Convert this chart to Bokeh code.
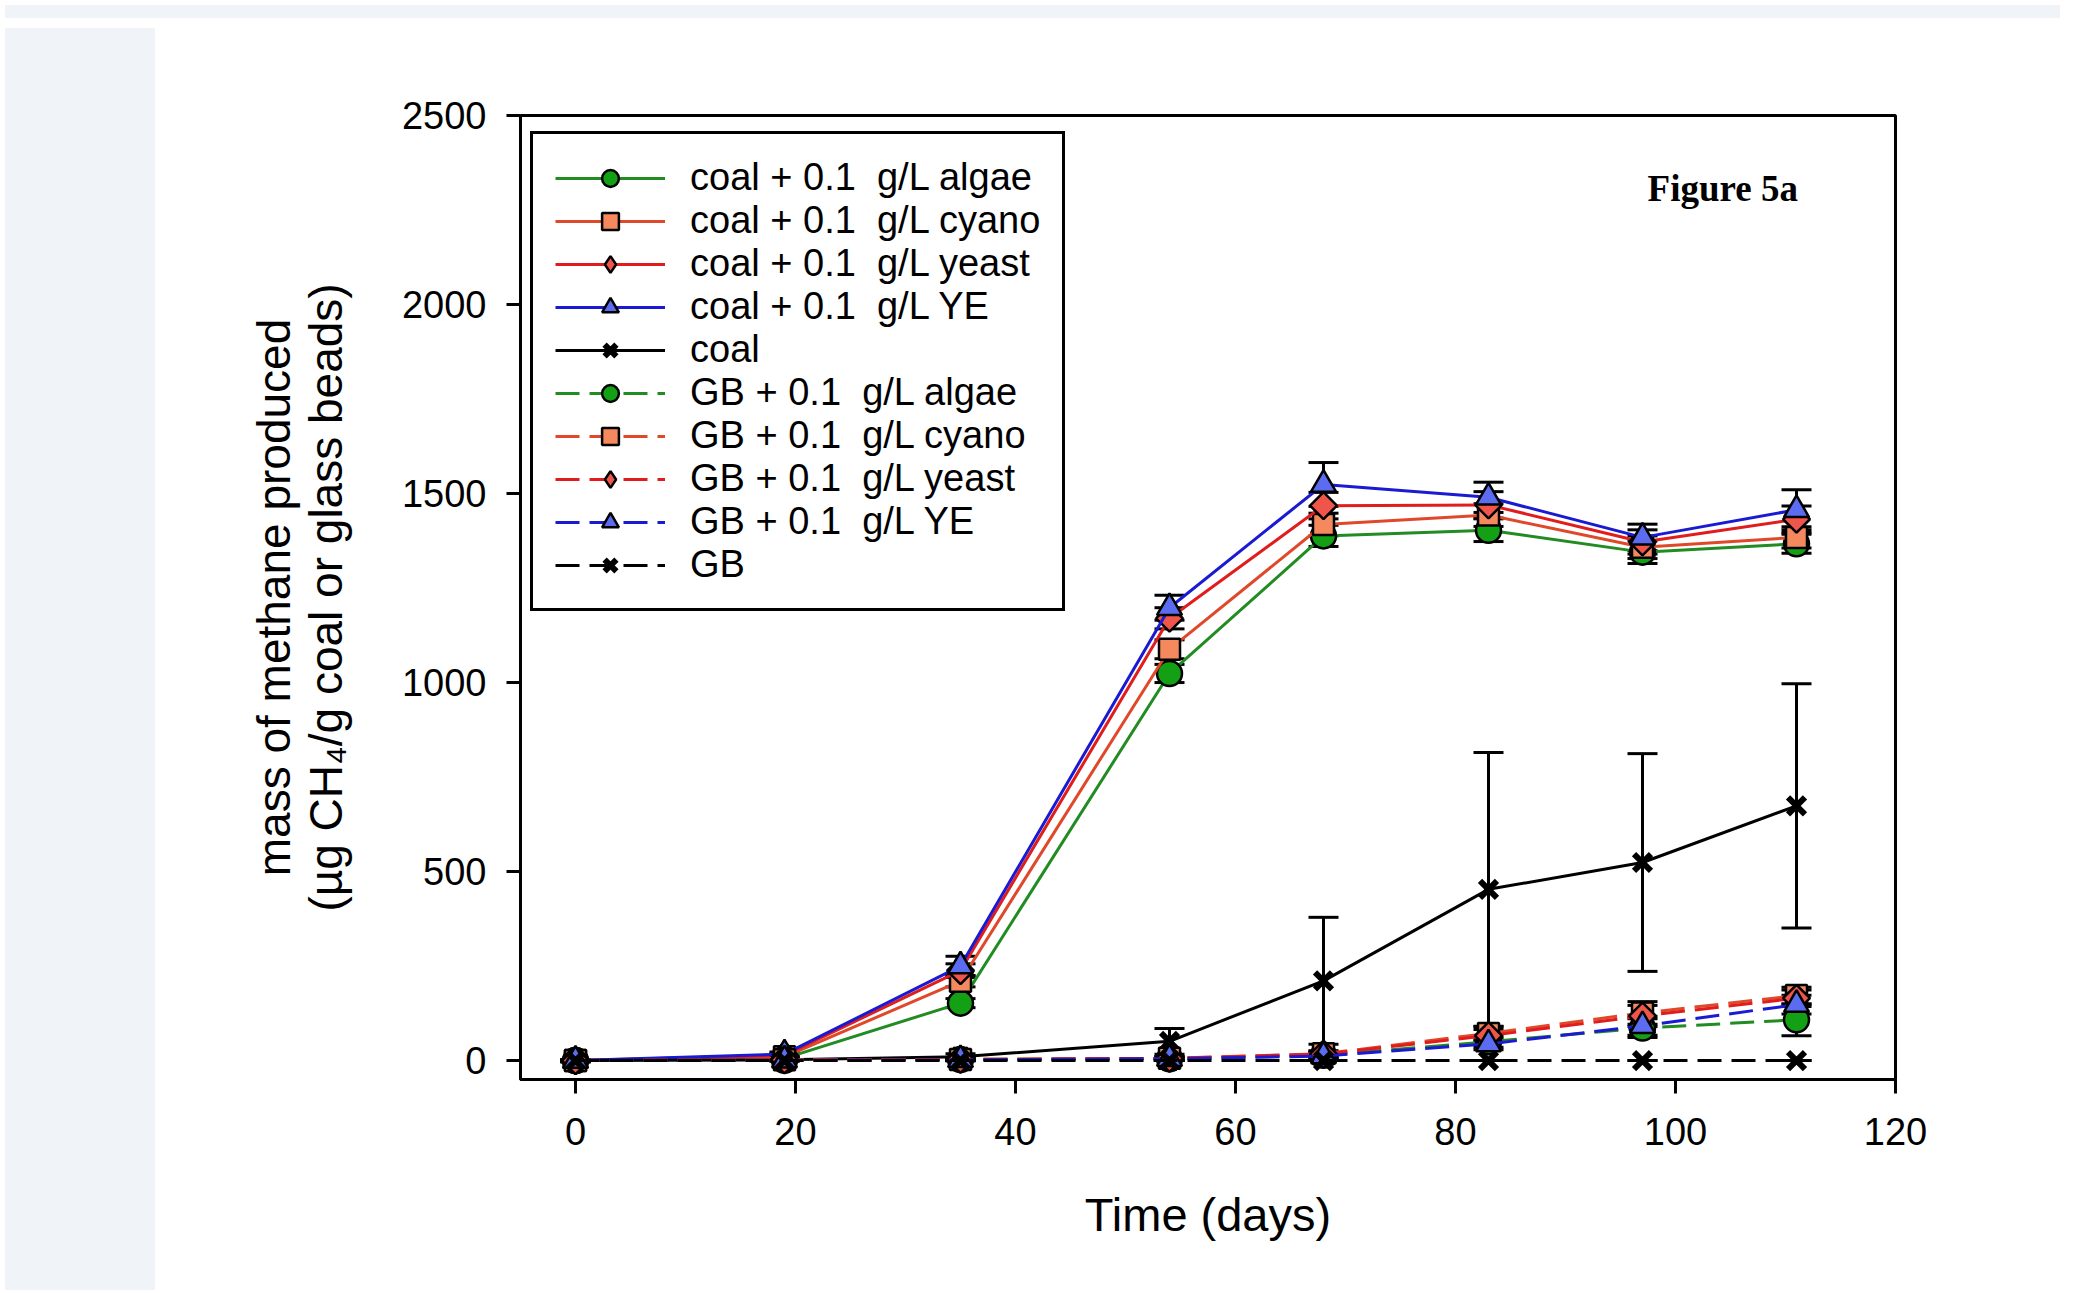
import math
from bokeh.plotting import figure
from bokeh.models import (ColumnDataSource, Legend, LegendItem, Whisker, TeeHead,
                          FixedTicker, Label, Range1d, Div)
from bokeh.layouts import column, row
from bokeh.embed import file_html
from bokeh.resources import INLINE

# ---------------- data ----------------
days = [0, 19, 35, 54, 68, 83, 97, 111]

coal_algae = [0, 6, 152, 1024, 1388, 1403, 1345, 1367]
coal_algae_err = [3, 4, 12, 24, 28, 30, 30, 25]
coal_cyano = [0, 10, 210, 1088, 1418, 1443, 1358, 1384]
coal_cyano_err = [3, 5, 15, 25, 30, 30, 30, 28]
coal_yeast = [0, 14, 238, 1170, 1468, 1470, 1372, 1432]
coal_yeast_err = [3, 5, 18, 28, 35, 35, 32, 35]
coal_ye = [0, 17, 250, 1198, 1524, 1490, 1384, 1457]
coal_ye_err = [3, 6, 26, 33, 58, 40, 35, 53]
coal_only = [0, 2, 10, 51, 211, 453, 524, 674]
coal_only_err = [2, 3, 8, 34, 168, 362, 288, 323]

gb_algae = [0, 1, 3, 5, 14, 50, 86, 108]
gb_algae_err = [1, 2, 3, 4, 8, 15, 25, 42]
gb_cyano = [0, 2, 3, 6, 18, 72, 126, 172]
gb_cyano_err = [1, 2, 3, 4, 8, 18, 30, 22]
gb_yeast = [0, 2, 3, 6, 17, 66, 118, 165]
gb_yeast_err = [1, 2, 3, 4, 8, 16, 28, 22]
gb_ye = [0, 1, 2, 5, 12, 44, 92, 148]
gb_ye_err = [1, 2, 3, 4, 8, 15, 25, 25]
gb_only = [0, 0, 0, 0, 0, 0, 0, 0]
gb_only_err = [0, 0, 0, 0, 0, 0, 0, 0]

labels = ["coal + 0.1  g/L algae", "coal + 0.1  g/L cyano", "coal + 0.1  g/L yeast",
          "coal + 0.1  g/L YE", "coal",
          "GB + 0.1  g/L algae", "GB + 0.1  g/L cyano", "GB + 0.1  g/L yeast",
          "GB + 0.1  g/L YE", "GB"]
values = [coal_algae, coal_cyano, coal_yeast, coal_ye, coal_only,
          gb_algae, gb_cyano, gb_yeast, gb_ye, gb_only]
errors = [coal_algae_err, coal_cyano_err, coal_yeast_err, coal_ye_err, coal_only_err,
          gb_algae_err, gb_cyano_err, gb_yeast_err, gb_ye_err, gb_only_err]

x_ticks = [0, 20, 40, 60, 80, 100, 120]
y_ticks = [0, 500, 1000, 1500, 2000, 2500]

# ---------------- styles ----------------
line_colors = ["#228b22", "#e0482a", "#e01c1c", "#1a1ad2", "#000000"] * 2
fill_colors = ["#14a014", "#f5895e", "#f0554c", "#5b6cf0", "#000000"] * 2
markers = ["circle", "square", "square", "triangle", "x"] * 2
legend_markers = ["circle", "square", "diamond", "triangle", "x"] * 2
angles = [0, 0, math.pi / 4, 0, 0] * 2
sizes = [25, 21, 19, 25, 24] * 2
dashes = ["solid"] * 5 + ["24 10"] * 5

FONT = "Liberation Sans"
GRAY = "#f0f4f9"

p = figure(width=1905, height=1262,
           x_range=Range1d(-5, 120), y_range=Range1d(-50, 2500),
           output_backend="svg", toolbar_location=None,
           min_border_left=360, min_border_right=170,
           min_border_top=92, min_border_bottom=206,
           background_fill_color="white", border_fill_color="white",
           outline_line_color="black", outline_line_width=3)
p.xgrid.visible = False
p.ygrid.visible = False

p.xaxis.ticker = FixedTicker(ticks=x_ticks)
p.yaxis.ticker = FixedTicker(ticks=y_ticks)
for ax in (p.xaxis[0], p.yaxis[0]):
    ax.axis_line_width = 3
    ax.axis_line_color = "black"
    ax.major_tick_line_width = 3
    ax.major_tick_out = 14
    ax.major_tick_in = 0
    ax.minor_tick_out = 0
    ax.minor_tick_in = 0
    ax.major_label_text_font = FONT
    ax.major_label_text_font_size = "38px"
    ax.major_label_text_color = "black"
    ax.major_label_standoff = 20
    ax.axis_label_text_font = FONT
    ax.axis_label_text_font_style = "normal"
    ax.axis_label_text_color = "black"

p.xaxis.major_label_standoff = 24
p.xaxis.axis_label = "Time (days)"
p.xaxis.axis_label_text_font_size = "47px"
p.xaxis.axis_label_standoff = 40
p.yaxis.axis_label = "mass of methane produced\n(\u00b5g CH\u2084/g coal or glass beads)"
p.yaxis.axis_label_text_font_size = "46px"
p.yaxis.axis_label_text_line_height = 1.0
p.yaxis.axis_label_standoff = 47

# error bars
for vals, errs in zip(values, errors):
    src = ColumnDataSource(dict(x=days,
                                upper=[v + e for v, e in zip(vals, errs)],
                                lower=[v - e for v, e in zip(vals, errs)]))
    w = Whisker(base="x", upper="upper", lower="lower", source=src,
                line_color="black", line_width=3,
                upper_head=TeeHead(size=30, line_width=3, line_color="black"),
                lower_head=TeeHead(size=30, line_width=3, line_color="black"))
    p.add_layout(w)

items = []
for i, (lab, vals) in enumerate(zip(labels, values)):
    src = ColumnDataSource(dict(x=days, y=vals))
    lr = p.line("x", "y", source=src, line_color=line_colors[i], line_width=3,
                line_dash=dashes[i])
    if markers[i] == "x":
        sr = p.scatter("x", "y", source=src, marker="x", size=sizes[i],
                       line_color="black", line_width=6)
        legend_r = [lr, sr]
    else:
        sr = p.scatter("x", "y", source=src, marker=markers[i], size=sizes[i],
                       angle=angles[i],
                       fill_color=fill_colors[i], line_color="black", line_width=2.5)
        if legend_markers[i] != markers[i]:
            # legend-only glyph (hidden in the plot) so the key shows a diamond
            lm = p.scatter("x", "y", source=src, marker=legend_markers[i],
                           size=sizes[i], fill_color=fill_colors[i],
                           line_color="black", line_width=2.5, visible=False)
            legend_r = [lr, lm]
        else:
            legend_r = [lr, sr]
    items.append(LegendItem(label=lab, renderers=legend_r))

legend = Legend(items=items, location=(10, 468), padding=22,
                spacing=0, glyph_width=110, glyph_height=42, label_height=42,
                label_standoff=25,
                label_text_font=FONT, label_text_font_size="38px",
                label_text_color="black",
                border_line_color="black", border_line_width=3, border_line_alpha=1.0,
                background_fill_color="white", background_fill_alpha=1.0)
p.add_layout(legend)

p.add_layout(Label(x=104.3, y=2308, text="Figure 5a", text_font="Liberation Serif",
                   text_font_style="bold", text_font_size="37px",
                   text_align="center", text_baseline="middle", text_color="black"))

top = Div(width=2055, height=13, styles={"background-color": GRAY})
left = Div(width=150, height=1262, styles={"background-color": GRAY})
layout = column(top, row(left, p, spacing=0), spacing=0)

open("out.html", "w").write(file_html(layout, INLINE))
